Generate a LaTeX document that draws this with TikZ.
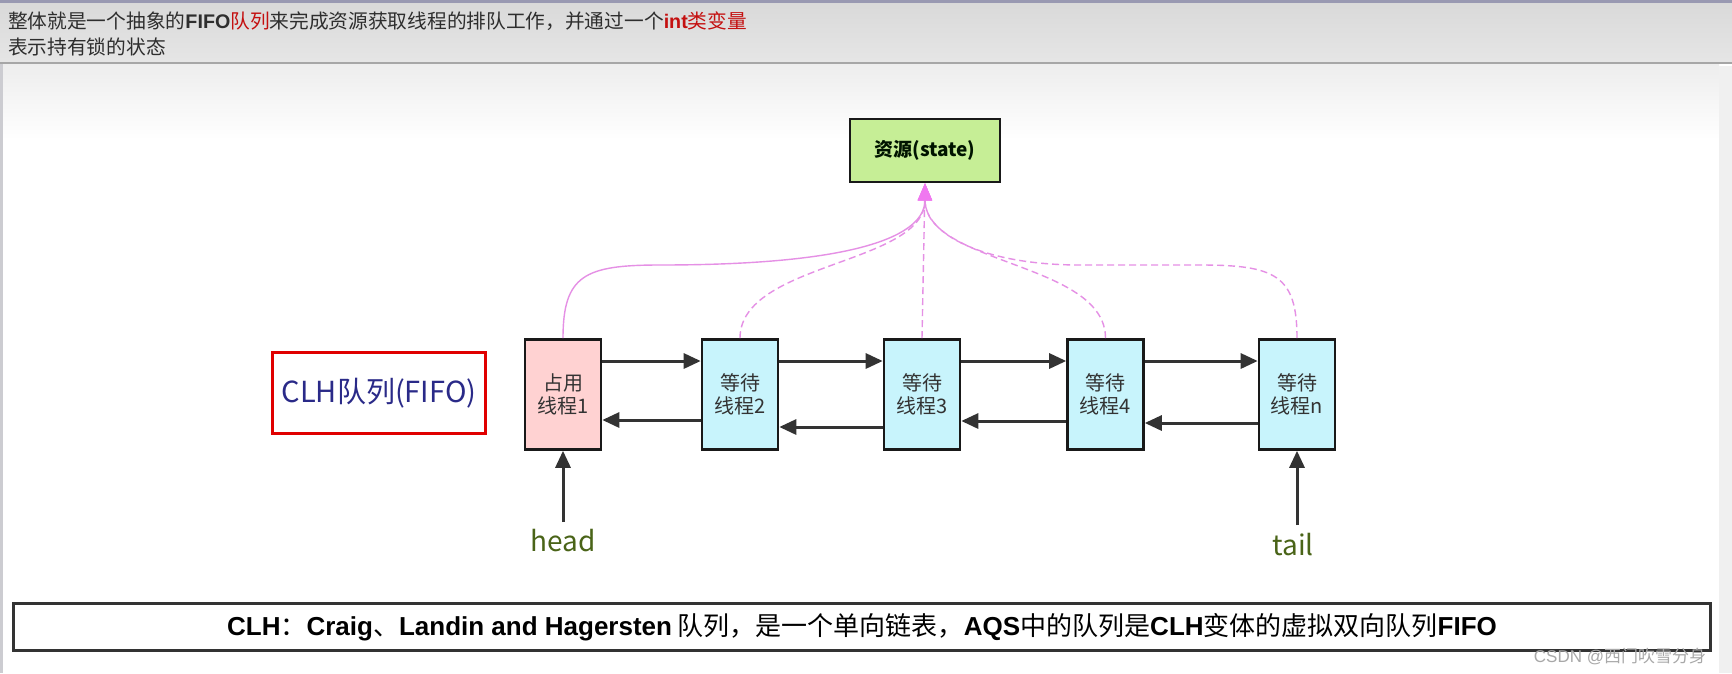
\documentclass[tikz,border=0pt]{standalone}
\usepackage{fontspec}
\setmainfont{Noto Sans CJK SC}
\newfontfamily\arialf{Liberation Sans}
\usetikzlibrary{arrows.meta}
\definecolor{hdrtxt}{HTML}{2E2E2E}
\definecolor{redc}{HTML}{C41010}
\definecolor{cyanfill}{HTML}{C8F4FC}
\definecolor{pinkfill}{HTML}{FFD2D2}
\definecolor{greenfill}{HTML}{C6EE96}
\definecolor{arrowc}{HTML}{333333}
\definecolor{pinkc}{HTML}{E590E5}
\definecolor{pinktip}{HTML}{F078F0}
\definecolor{olive}{HTML}{4A6418}
\definecolor{clhblue}{HTML}{2A2A88}
\definecolor{clhred}{HTML}{E00000}
\definecolor{wmc}{HTML}{A8A8A8}
\newcommand\ab[1]{{\arialf\bfseries #1}}
\begin{document}
\begin{tikzpicture}[x=1pt,y=-1pt,
  qbox/.style={draw=black!90, line width=2.6pt, minimum width=76pt, minimum height=110pt, inner sep=0pt, align=center, font=\fontsize{20}{23}\selectfont, text=black!80},
  waitbox/.style={qbox, fill=cyanfill},
  ownbox/.style={qbox, fill=pinkfill},
  link/.style={draw=arrowc, line width=3pt, -{Triangle[length=17pt,width=15pt]}},
  pinkline/.style={draw=pinkc, line width=1.4pt, -{Triangle[length=17pt,width=14pt,fill=pinktip,color=pinktip]}},
  pinkdash/.style={pinkline, dash pattern=on 7pt off 4pt},
  lbl/.style={font=\fontsize{28}{32}\selectfont, text=olive, inner sep=0pt}
]
\useasboundingbox (0,0) rectangle (1732,673);
% background
\fill[white] (0,0) rectangle (1732,673);
\shade[top color=black!15, bottom color=black!10] (0,0) rectangle (1732,62);
\fill[blue!25!black!40] (0,0) rectangle (1732,2.5);
\fill[black!35] (0,61.5) rectangle (1732,64);
\shade[top color=black!7, bottom color=white] (3,64) rectangle (1719,140);
\fill[blue!10!black!20] (0,64) rectangle (3,673);
\fill[black!6] (1719,66) rectangle (1732,673);

% header text
\node[anchor=west, inner sep=0pt, font=\fontsize{19.7}{24}\selectfont, text=hdrtxt] (h1) at (8,21)
  {整体就是一个抽象的\ab{FIFO}\textcolor{redc}{队列}来完成资源获取线程的排队工作，并通过一个\textcolor{redc}{\ab{int}类变量}};
\node[anchor=west, inner sep=0pt, font=\fontsize{19.7}{24}\selectfont, text=hdrtxt] (h2) at (8,47)
  {表示持有锁的状态};

% resource
\node[draw=black!90, line width=2.8pt, fill=greenfill, minimum width=150pt, minimum height=63pt, inner sep=0pt,
  font=\fontsize{19}{23}\selectfont\bfseries, text=black!80!green!40!black] (res) at (925,150.5) {资源(state)};

% queue nodes
\node[ownbox] (n1) at (563,394.5) {占用\\线程1};
\node[waitbox] (n2) at (740,394.5) {等待\\线程2};
\node[waitbox] (n3) at (922,394.5) {等待\\线程3};
\node[waitbox] (n4) at (1105.5,394.5) {等待\\线程4};
\node[waitbox] (nn) at (1297,394.5) {等待\\线程n};

% CLH label
\node[draw=clhred, line width=2.8pt, minimum width=213pt, minimum height=81pt, inner sep=0pt,
  font=\fontsize{29}{33}\selectfont, text=clhblue] (clh) at (379,393) {CLH队列(FIFO)};

% forward / backward links
\coordinate (fwd) at (0,361);
\coordinate (b1) at (0,420);
\coordinate (b2) at (0,427);
\coordinate (b3) at (0,421);
\coordinate (b4) at (0,423);
\draw[link] (n1.east |- fwd) -- (n2.west |- fwd);
\draw[link] (n2.east |- fwd) -- (n3.west |- fwd);
\draw[link] (n3.east |- fwd) -- (n4.west |- fwd);
\draw[link] (n4.east |- fwd) -- (nn.west |- fwd);
\draw[link] (n2.west |- b1) -- (n1.east |- b1);
\draw[link] (n3.west |- b2) -- (n2.east |- b2);
\draw[link] (n4.west |- b3) -- (n3.east |- b3);
\draw[link] (nn.west |- b4) -- (n4.east |- b4);

% head / tail
\node[lbl] (head) at (563,541) {head};
\node[lbl] (tail) at (1293,545) {tail};
\coordinate (hs) at (563,522);
\coordinate (ts) at (1297,525);
\draw[link] (hs) -- (n1.south);
\draw[link] (ts) -- (nn.south);

% pink curves to resource
\draw[pinkline] (n1.north) .. controls (563,275) and (585,265) .. (660,265) .. controls (860,265) and (925,235) .. (res.south);
\draw[pinkdash] (n2.north) .. controls (740,262) and (925,265) .. (res.south);
\draw[pinkdash] (n3.north) -- (res.south);
\draw[pinkdash] (n4.north) .. controls (1105.5,262) and (925,265) .. (res.south);
\draw[pinkdash] (nn.north) .. controls (1297,275) and (1275,265) .. (1200,265) -- (1080,265) .. controls (985,265) and (925,235) .. (res.south);

% bottom note
\node[draw=black!80, line width=2.4pt, minimum width=1697pt, minimum height=47pt, inner sep=0pt,
  font=\fontsize{26}{30}\selectfont, text=black] (note) at (862,627)
  {\ab{CLH}：\ab{Craig}、\ab{Landin and Hagersten} 队列，是一个单向链表，\ab{AQS}中的队列是\ab{CLH}变体的虚拟双向队列\ab{FIFO}};

% watermark
\node[font=\fontsize{17}{20}\selectfont, text=wmc, inner sep=0pt] (wm) at (1620,656) {\arialf CSDN @\rmfamily 西门吹雪分身};
\end{tikzpicture}
\end{document}
